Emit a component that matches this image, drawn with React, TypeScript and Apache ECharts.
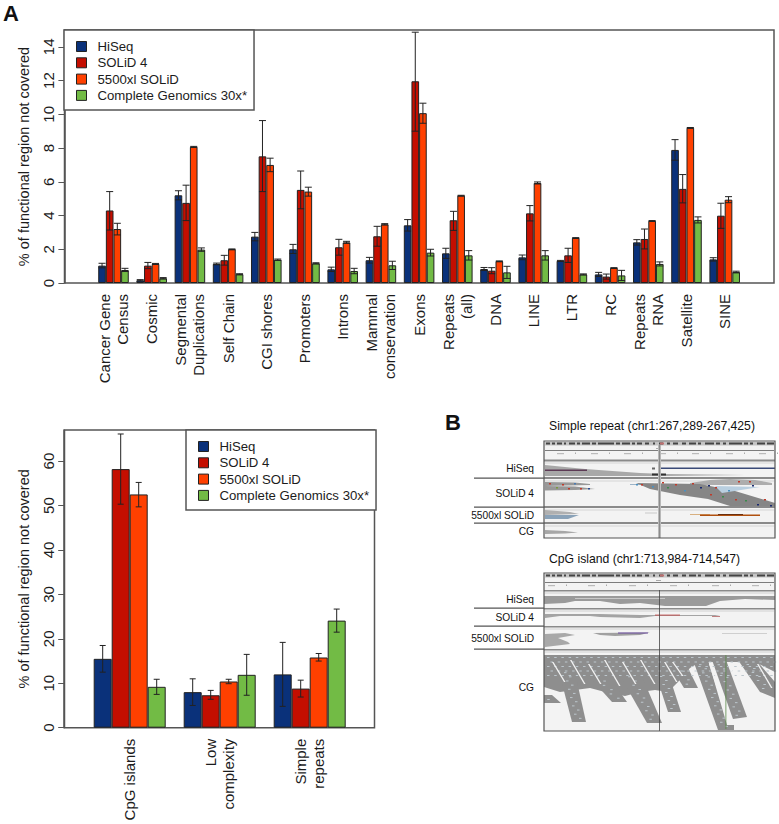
import React, { useEffect, useRef } from "react";
import * as echarts from "echarts";

const seriesNames = ["HiSeq", "SOLiD 4", "5500xl SOLiD", "Complete Genomics 30x*"];
const seriesColors = ["#0a317a", "#c40e00", "#ff4000", "#72bb45"];

const topCategories = [
  "Cancer Gene\nCensus", "Cosmic", "Segmental\nDuplications", "Self Chain", "CGI shores", "Promoters",
  "Introns", "Mammal\nconservation", "Exons", "Repeats\n(all)", "DNA", "LINE", "LTR", "RC",
  "Repeats\nRNA", "Satellite", "SINE",
];
const topHiSeq = [1.03, 0.16, 5.2, 1.13, 2.75, 2.0, 0.81, 1.35, 3.42, 1.76, 0.83, 1.52, 1.31, 0.51, 2.41, 7.89, 1.4];
const topHiSeqLow = [0.9, 0.12, 4.93, 1.08, 2.5, 1.75, 0.68, 1.18, 3.08, 1.46, 0.74, 1.38, 1.28, 0.39, 2.25, 7.28, 1.3];
const topHiSeqHigh = [1.17, 0.2, 5.47, 1.18, 3.0, 2.29, 0.94, 1.52, 3.76, 2.06, 0.92, 1.66, 1.34, 0.63, 2.57, 8.5, 1.5];
const topSolid = [4.3, 1.03, 4.75, 1.35, 7.51, 5.52, 2.12, 2.77, 11.96, 3.72, 0.73, 4.13, 1.64, 0.38, 2.61, 5.58, 3.99];
const topSolidLow = [3.14, 0.85, 3.7, 1.06, 5.42, 4.4, 1.65, 2.18, 9.0, 3.12, 0.55, 3.68, 1.22, 0.23, 2.02, 4.75, 3.24];
const topSolidHigh = [5.42, 1.22, 5.8, 1.64, 9.63, 6.64, 2.59, 3.36, 14.87, 4.25, 0.91, 4.59, 2.06, 0.53, 3.2, 6.43, 4.73];
const top5500 = [3.2, 1.13, 8.07, 2.0, 7.0, 5.42, 2.41, 3.48, 10.07, 5.18, 1.29, 5.93, 2.67, 0.89, 3.68, 9.2, 4.94];
const top5500Low = [2.85, 1.1, 8.04, 1.98, 6.6, 5.15, 2.35, 3.44, 9.47, 5.16, 1.27, 5.87, 2.65, 0.87, 3.66, 9.18, 4.76];
const top5500High = [3.54, 1.16, 8.1, 2.02, 7.4, 5.68, 2.47, 3.52, 10.66, 5.2, 1.31, 5.99, 2.69, 0.91, 3.7, 9.22, 5.12];
const topCG = [0.77, 0.28, 1.98, 0.52, 1.38, 1.17, 0.71, 1.05, 1.8, 1.64, 0.63, 1.64, 0.51, 0.45, 1.13, 3.74, 0.65];
const topCGLow = [0.68, 0.24, 1.88, 0.49, 1.34, 1.13, 0.55, 0.8, 1.6, 1.36, 0.27, 1.36, 0.48, 0.15, 1.01, 3.56, 0.6];
const topCGHigh = [0.87, 0.32, 2.08, 0.55, 1.42, 1.2, 0.87, 1.29, 2.0, 1.92, 0.99, 1.92, 0.54, 0.75, 1.25, 3.92, 0.7];
const topTicks = [0, 2, 4, 6, 8, 10, 12, 14];

const bottomCategories = ["CpG islands", "Low\ncomplexity", "Simple\nrepeats"];
const botHiSeq = [15.5, 8.0, 12.0];
const botHiSeqLow = [12.5, 5.0, 4.8];
const botHiSeqHigh = [18.5, 11.0, 19.2];
const botSolid = [58.2, 7.3, 8.8];
const botSolidLow = [50.3, 6.4, 6.9];
const botSolidHigh = [66.1, 8.4, 10.7];
const bot5500 = [52.5, 10.4, 15.8];
const bot5500Low = [49.7, 9.9, 15.0];
const bot5500High = [55.2, 10.9, 16.7];
const botCG = [9.2, 11.9, 24.1];
const botCGLow = [7.5, 7.3, 21.5];
const botCGHigh = [10.9, 16.5, 26.7];
const bottomTicks = [0, 10, 20, 30, 40, 50, 60];

const FONT = "Liberation Sans";
const AXIS_GREY = "#555";
const INK = "#1c1c1c";

function errorItem(slot: number, capHalf: number) {
  return (_p: any, api: any) => {
    const cat = api.value(0);
    const band = api.size([1, 0])[0];
    const base = api.coord([cat, api.value(1)]);
    const tip = api.coord([cat, api.value(2)]);
    const x = base[0] + (slot - 1.5) * band * 0.2;
    const style = { stroke: "#222", lineWidth: 1 };
    return {
      type: "group",
      children: [
        { type: "line", shape: { x1: x, y1: base[1], x2: x, y2: tip[1] }, style },
        { type: "line", shape: { x1: x - capHalf, y1: base[1], x2: x + capHalf, y2: base[1] }, style },
        { type: "line", shape: { x1: x - capHalf, y1: tip[1], x2: x + capHalf, y2: tip[1] }, style },
      ],
    };
  };
}

function panelSeries(gridIndex: number, values: number[][], lows: number[][], highs: number[][], capHalf: number) {
  const out: any[] = [];
  values.forEach((vals, slot) => {
    out.push({
      type: "bar",
      name: seriesNames[slot],
      xAxisIndex: gridIndex,
      yAxisIndex: gridIndex,
      data: vals,
      barGap: 0,
      barCategoryGap: "20%",
      itemStyle: { color: seriesColors[slot], borderColor: "#222", borderWidth: 1 },
      z: 2,
    });
  });
  values.forEach((vals, slot) => {
    out.push({
      type: "custom",
      name: `err-${gridIndex}-${slot}`,
      xAxisIndex: gridIndex,
      yAxisIndex: gridIndex,
      data: vals.map((_, i) => [i, lows[slot][i], highs[slot][i]]),
      encode: { x: 0, y: [1, 2] },
      renderItem: errorItem(slot, capHalf),
      z: 3,
      silent: true,
      tooltip: { show: false },
    });
  });
  return out;
}

function xAxis(gridIndex: number, data: string[], margin: number) {
  return {
    type: "category",
    gridIndex,
    data,
    axisLine: { show: false },
    axisTick: { show: false },
    axisLabel: {
      interval: 0,
      rotate: 90,
      margin,
      fontFamily: FONT,
      fontSize: 15,
      lineHeight: 18,
      color: INK,
    },
  };
}

function yAxis(gridIndex: number, max: number, ticks: number[], offset: number) {
  return {
    type: "value",
    gridIndex,
    min: 0,
    max,
    offset,
    name: "% of functional region not covered",
    nameLocation: "middle",
    nameGap: 33,
    nameTextStyle: { fontFamily: FONT, fontSize: 14.5, color: INK },
    splitLine: { show: false },
    axisLine: { show: true, lineStyle: { color: AXIS_GREY, width: 1.5 } },
    axisTick: { show: true, length: 6, lineStyle: { color: AXIS_GREY, width: 1 }, customValues: ticks },
    axisLabel: { rotate: 90, margin: 8, fontFamily: FONT, fontSize: 15, color: INK, customValues: ticks },
  };
}

function legend(left: number, top: number) {
  return {
    data: seriesNames,
    orient: "vertical",
    left,
    top,
    selectedMode: false,
    icon: "rect",
    itemWidth: 10,
    itemHeight: 10,
    itemGap: 3.3,
    padding: [10, 7, 8, 12],
    backgroundColor: "#fff",
    borderColor: AXIS_GREY,
    borderWidth: 1.5,
    itemStyle: { borderColor: "#222", borderWidth: 1 },
    textStyle: { fontFamily: FONT, fontSize: 13.2, color: INK, lineHeight: 11, padding: [0, 0, 0, 6] },
  };
}

// ---- decoration of panel B: hand-traced read-pileup screenshots ----
const rect = (x: number, y: number, w: number, h: number, fill: string) => ({
  type: "rect", silent: true, shape: { x, y, width: w, height: h }, style: { fill },
});
const poly = (points: number[][], fill: string) => ({
  type: "polygon", silent: true, shape: { points }, style: { fill },
});
const label = (text: string, x: number, y: number, size = 10.2, align = "right", weight = "normal") => ({
  type: "text", silent: true, x, y,
  style: { text, fill: "#111", textAlign: align, textVerticalAlign: "middle", font: `${weight} ${size}px "${FONT}"` },
});

const cytoRuns = [
  [1, 4], [7, 3], [12, 5], [19, 2], [24, 6], [32, 3], [37, 8], [47, 4], [53, 16], [71, 4], [77, 8], [87, 3], [92, 5],
  [100, 4], [108, 2], [114, 4], [122, 3], [128, 5], [137, 4], [144, 7], [153, 3], [160, 9], [171, 4], [178, 3],
  [184, 13], [199, 4], [205, 3], [212, 8], [222, 7],
];
function igvHeader(y: number, labelXs: number[]) {
  const out: any[] = [];
  out.push(rect(545, y + 1, 229, 3.5, "#c4c4c4"));
  cytoRuns.forEach(([dx, w]) => out.push(rect(545 + dx, y + 1.5, w, 2, "#444")));
  out.push(rect(660, y + 1.5, 4, 2, "#c07070"));
  out.push(rect(545, y + 9, 229, 0.8, "#555"));
  out.push(rect(656, y + 7, 5, 1, "#aaa"));
  labelXs.forEach((x) => {
    out.push(rect(x, y + 12, 7, 1.2, "#bbb"));
    out.push(rect(x + 18, y + 11.5, 1, 1.5, "#aaa"));
  });
  return out;
}

const specks1 = [
  [549, 483, "#c03a2a"], [556, 487, "#7a9a3a"], [562, 484, "#c03a2a"], [568, 488, "#c03a2a"], [574, 483, "#4a7ab0"],
  [580, 488, "#c03a2a"], [588, 488, "#2a4a90"], [636, 484, "#4a90c0"], [641, 484, "#c03a2a"], [652, 486, "#4a90c0"],
  [662, 482, "#c03a2a"], [667, 487, "#3a8a4a"], [675, 484, "#c03a2a"], [684, 490, "#4a90c0"], [692, 483, "#c03a2a"],
  [700, 487, "#1a2a70"], [708, 485, "#1a2a70"], [715, 487, "#c03a2a"], [738, 481, "#c03a2a"], [749, 481, "#c03a2a"],
  [710, 494, "#c03a2a"], [722, 496, "#3a8a4a"], [735, 499, "#c03a2a"], [745, 500, "#3a8a4a"], [757, 504, "#1a2a70"],
  [728, 490, "#4a90c0"], [752, 485, "#1a2a70"], [764, 499, "#c03a2a"], [770, 505, "#1a2a70"],
];
function panelOne() {
  const out: any[] = [];
  out.push(rect(544, 441, 231, 97, "#f3f3f3"));
  out.push(...igvHeader(441, [557, 591, 624, 659, 692, 726, 759]));
  [459.5, 477, 506, 522].forEach((y) => out.push(rect(544, y, 231, 2, "#8a8a8a")));
  [462, 480, 509, 525].forEach((y) => out.push(rect(545, y, 229, 2, "#e4e4e4")));
  // HiSeq
  out.push(poly([[545, 465], [585, 469], [640, 473], [665, 474], [745, 475], [665, 476], [545, 476]], "#a8a8a8"));
  out.push(rect(545, 469.5, 42, 1.5, "#5d3a55"));
  out.push(rect(660, 467.5, 115, 1.5, "#3a4a78"));
  out.push(rect(652, 473.5, 14, 2, "#333"));
  out.push(rect(652, 467.5, 3, 2, "#666"));
  // SOLiD 4
  out.push(poly([[545, 482], [575, 482.5], [590, 484], [590, 485], [545, 486]], "#989898"));
  out.push(poly([[545, 486], [575, 486.5], [595, 489], [575, 490], [545, 490.5]], "#989898"));
  out.push(rect(630, 484, 25, 1, "#9db4c8"));
  out.push(poly([[690, 483], [710, 480], [730, 479], [755, 480], [772, 483], [772, 485], [690, 485]], "#adadad"));
  out.push(poly([[636, 483], [700, 484], [735, 491], [775, 503], [775, 506], [730, 506], [708, 499], [680, 495], [650, 489]], "#868686"));
  out.push(poly([[715, 486], [760, 487], [722, 493]], "#b9cfe0"));
  specks1.forEach(([x, y, c]) => out.push(rect(x as number, y as number, 2, 1.5, c as string)));
  // 5500xl
  out.push(poly([[545, 510], [570, 512], [579, 514], [545, 515]], "#b0b0b0"));
  out.push(poly([[545, 515], [579, 515], [568, 519], [545, 519]], "#8aa2b8"));
  out.push(rect(645, 512.5, 12, 1, "#c8c8c8"));
  out.push(rect(690, 514, 20, 1, "#d8b080"));
  out.push(rect(700, 514.5, 60, 1.5, "#b0500f"));
  out.push(rect(718, 514, 25, 1, "#6a3010"));
  // CG
  out.push(poly([[545, 530], [565, 531], [578, 532.5], [565, 533.5], [545, 534]], "#a6a6a6"));
  // cursor line
  out.push(rect(658, 445, 3, 93, "#b8b8b8"));
  out.push(rect(659, 445, 0.7, 93, "#777"));
  return out;
}

const stripes = [
  [[544, 695], [552, 695], [561, 703], [544, 703]],
  [[558, 668], [574, 668], [586, 722], [572, 722]],
  [[585, 672], [606, 672], [627, 702], [612, 702]],
  [[618, 672], [640, 672], [662, 723], [647, 723]],
  [[655, 672], [668, 672], [681, 712], [668, 712]],
  [[668, 662], [685, 662], [698, 688], [684, 688]],
  [[693, 660], [708, 660], [727, 725], [734, 725], [734, 730], [718, 730]],
  [[712, 660], [726, 660], [747, 717], [733, 719]],
  [[738, 660], [756, 660], [775, 682], [775, 698], [760, 692]],
];
const cgBase = [
  [544, 655], [775, 655], [775, 672], [755, 662], [700, 662], [690, 668], [678, 682], [668, 692], [655, 690], [640, 692],
  [625, 696], [605, 692], [590, 688], [575, 690], [560, 692], [544, 687],
];
const cgSlits = [
  [552, 662, 12, 20], [570, 660, 14, 24], [588, 664, 12, 20], [604, 660, 15, 26], [622, 662, 13, 22], [640, 660, 14, 24],
  [664, 662, 12, 20], [672, 662, 10, 14], [709, 664, 17, 52], [728, 664, 16, 36], [757, 664, 14, 24],
];
function panelTwo() {
  const out: any[] = [];
  out.push(rect(544, 573, 231, 158, "#f3f3f3"));
  out.push(...igvHeader(573, [548, 588, 629, 670, 712, 752]));
  [590, 608, 626, 649].forEach((y) => out.push(rect(544, y, 231, 1.5, "#8a8a8a")));
  [592, 610, 628, 651].forEach((y) => out.push(rect(545, y, 229, 2, "#e2e2e2")));
  // HiSeq
  out.push(poly([[544, 596], [775, 596], [775, 600], [745, 599], [720, 601], [706, 606], [665, 606], [640, 603], [620, 604], [600, 601], [575, 601], [565, 603], [544, 604]], "#9a9a9a"));
  out.push(rect(575, 598, 90, 1, "#c9c9c9"));
  // SOLiD 4
  out.push(poly([[545, 614], [600, 614], [640, 615], [715, 615], [720, 616], [655, 616], [640, 618], [600, 617], [590, 616], [560, 616], [545, 618]], "#a4a4a4"));
  out.push(rect(655, 614.6, 25, 1, "#c05050"));
  out.push(rect(712, 616, 8, 1, "#c08080"));
  // 5500xl
  out.push(poly([[593, 633], [650, 632.5], [640, 635], [615, 636], [600, 635]], "#a0a0a0"));
  out.push(rect(618, 632.5, 30, 1, "#6a4aa0"));
  out.push(poly([[545, 634], [565, 633], [575, 635], [558, 638], [568, 642], [570, 644], [545, 647]], "#a8a8a8"));
  out.push(rect(722, 633, 45, 1, "#cfcfcf"));
  // CG
  out.push(poly(cgBase, "#8e8e8e"));
  stripes.forEach((s) => out.push(poly(s, "#8e8e8e")));
  // pale gaps between stacked reads, stepped along each stripe
  const dash = (x: number, y: number) => out.push(rect(x, y, 2.5, 1, "#bcc6cc"));
  for (let row = 0; row < 5; row++) {
    for (let col = 0; col < 32; col++) {
      dash(547 + col * 7.2 + (row % 2) * 3.5, 657 + row * 4.5);
    }
  }
  stripes.forEach((s) => {
    const top = s[0];
    const topR = s[1];
    const low = s[s.length - 1];
    const lowR = s[s.length - 2];
    const cxTop = (top[0] + topR[0]) / 2;
    const cxLow = (low[0] + lowR[0]) / 2;
    const steps = Math.floor((low[1] - top[1]) / 4);
    for (let k = 1; k < steps; k++) {
      const t = k / steps;
      dash(cxTop + (cxLow - cxTop) * t - 1 + (k % 2 ? -2 : 2), top[1] + (low[1] - top[1]) * t);
    }
  });
  cgSlits.forEach(([x, y, dx, dy]) => out.push(poly([[x, y], [x + 1.5, y], [x + dx + 1.5, y + dy], [x + dx, y + dy]], "#f3f3f3")));
  out.push(rect(659, 590, 0.8, 141, "#444"));
  out.push(rect(725.5, 655, 0.8, 74, "#5a8a4a"));
  return out;
}

function frames() {
  const stroke = (x: number, y: number, w: number, h: number, c: string, lw: number) => ({
    type: "rect", silent: true, shape: { x, y, width: w, height: h }, style: { fill: "none", stroke: c, lineWidth: lw },
  });
  const leaders = [478, 507, 523, 608, 626, 649].map((y) => rect(474, y - 0.5, 70, 1.2, "#555"));
  return [
    stroke(64.5, 30, 709.5, 253, AXIS_GREY, 1.5),
    stroke(64.5, 430, 310, 297.7, AXIS_GREY, 1.5),
    stroke(544, 441, 231, 97, "#555", 1.2),
    stroke(544, 573, 231, 158, "#555", 1.2),
    ...leaders,
  ];
}

export default function App() {
  const ref = useRef<HTMLDivElement>(null);
  useEffect(() => {
    document.body.style.margin = "0";
    const chart = echarts.init(ref.current!, undefined, { renderer: "svg" });
    chart.setOption({
      animation: false,
      backgroundColor: "#fff",
      grid: [
        { left: 94.4, width: 649.4, top: 30, height: 253, containLabel: false },
        { left: 84.7, width: 270, top: 430, height: 297.7, containLabel: false },
      ],
      xAxis: [xAxis(0, topCategories, 11), xAxis(1, bottomCategories, 11)],
      yAxis: [yAxis(0, 15, topTicks, 30), yAxis(1, 67, bottomTicks, 20.5)],
      legend: [legend(64, 30), legend(186, 430)],
      series: [
        ...panelSeries(0, [topHiSeq, topSolid, top5500, topCG],
          [topHiSeqLow, topSolidLow, top5500Low, topCGLow],
          [topHiSeqHigh, topSolidHigh, top5500High, topCGHigh], 3.5),
        ...panelSeries(1, [botHiSeq, botSolid, bot5500, botCG],
          [botHiSeqLow, botSolidLow, bot5500Low, botCGLow],
          [botHiSeqHigh, botSolidHigh, bot5500High, botCGHigh], 3),
      ],
      graphic: {
        elements: [
          ...panelOne(),
          ...panelTwo(),
          ...frames(),
          label("A", 3, 13, 22, "left", "bold"),
          label("B", 445, 422, 22, "left", "bold"),
          label("Simple repeat (chr1:267,289-267,425)", 549, 426, 12.2, "left"),
          label("CpG island (chr1:713,984-714,547)", 549, 559, 12.2, "left"),
          label("HiSeq", 534, 468.5),
          label("SOLiD 4", 534, 493),
          label("5500xl SOLiD", 534, 515.5),
          label("CG", 534, 531),
          label("HiSeq", 534, 599),
          label("SOLiD 4", 534, 617.5),
          label("5500xl SOLiD", 534, 638),
          label("CG", 534, 687.5),
        ],
      },
    });
    return () => chart.dispose();
  }, []);
  return <div ref={ref} style={{ width: 779, height: 824, position: "absolute", left: 0, top: 0 }} />;
}
